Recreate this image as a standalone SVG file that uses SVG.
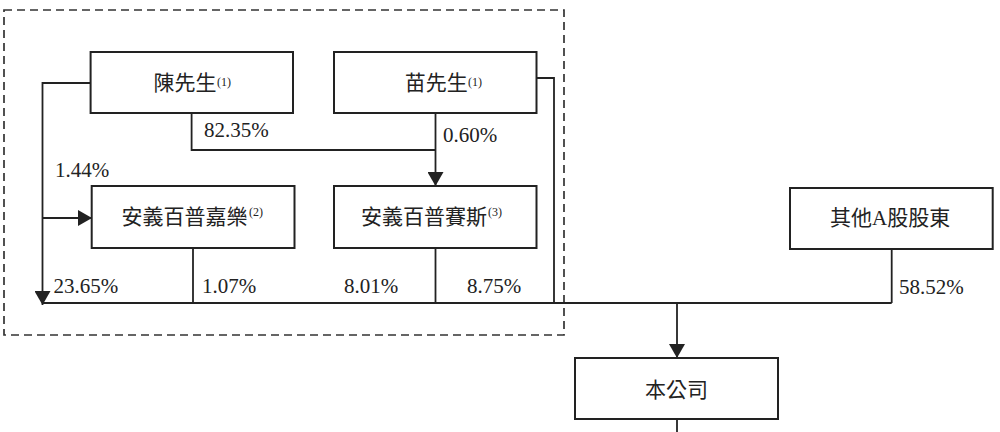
<svg xmlns="http://www.w3.org/2000/svg" width="1000" height="432" viewBox="0 0 1000 432">
<style>
  .box { fill: #ffffff; stroke: #222222; stroke-width: 2; }
  .line { fill: none; stroke: #222222; stroke-width: 1.8; }
  .dash { fill: none; stroke: #333333; stroke-width: 1.7; stroke-dasharray: 8 5; }
  .t { font-family: "Noto Sans CJK TC", sans-serif; font-size: 21px; fill: #222222; }
  .n { font-family: "Liberation Serif", "Times New Roman", serif; font-size: 21px; fill: #222222; }
  .sup { font-family: "Liberation Serif", "Times New Roman", serif; font-size: 12px; fill: #222222; }
</style>
<defs>
  <marker id="arrow" markerUnits="userSpaceOnUse" markerWidth="16" markerHeight="16" refX="14" refY="8" orient="auto" viewBox="0 0 16 16">
    <path d="M0,0 L14,8 L0,16 z" fill="#222222"/>
  </marker>
</defs>
<rect width="1000" height="432" fill="#ffffff"/>
<rect id="group-boundary" class="dash" x="4" y="10" width="560" height="325"/>
<g id="connectors">
  <path class="line" d="M90.6,83 H42.5 V305" marker-end="url(#arrow)"/>
  <path class="line" d="M42.5,218 H92" marker-end="url(#arrow)"/>
  <path class="line" d="M191.6,113 V150 H435.5"/>
  <path class="line" d="M435.5,113 V186" marker-end="url(#arrow)"/>
  <path class="line" d="M536.5,78 H554 V303"/>
  <path class="line" d="M193,248 V303"/>
  <path class="line" d="M435.5,248 V303"/>
  <path class="line" d="M42.5,303 H891.7"/>
  <path class="line" d="M891.7,249 V303"/>
  <path class="line" d="M677,303 V358" marker-end="url(#arrow)"/>
  <path class="line" d="M677,419 V432"/>
  <text class="n" x="204" y="137">82.35%</text>
  <text class="n" x="443" y="141.5">0.60%</text>
  <text class="n" x="55" y="177">1.44%</text>
  <text class="n" x="53.5" y="293">23.65%</text>
  <text class="n" x="202" y="293">1.07%</text>
  <text class="n" x="344" y="293">8.01%</text>
  <text class="n" x="467" y="293">8.75%</text>
  <text class="n" x="899" y="294">58.52%</text>
</g>
<g id="node-chen">
  <rect class="box" x="90.6" y="52" width="202.4" height="61"/>
  <text class="t" x="153.5" y="90">陳先生</text>
  <text class="sup" x="217" y="86">(1)</text>
</g>
<g id="node-miao">
  <rect class="box" x="334" y="52" width="202.5" height="61"/>
  <text class="t" x="404.8" y="90">苗先生</text>
  <text class="sup" x="468" y="86">(1)</text>
</g>
<g id="node-jiale">
  <rect class="box" x="91.7" y="186" width="202.8" height="62"/>
  <text class="t" x="121.5" y="223.5">安義百普嘉樂</text>
  <text class="sup" x="249" y="216">(2)</text>
</g>
<g id="node-saisi">
  <rect class="box" x="334" y="186" width="202.5" height="62"/>
  <text class="t" x="361" y="223.5">安義百普賽斯</text>
  <text class="sup" x="488" y="216">(3)</text>
</g>
<g id="node-other">
  <rect class="box" x="790" y="188" width="202.7" height="61"/>
  <text class="t" x="830" y="225">其他<tspan class="n">A</tspan>股股東</text>
</g>
<g id="node-company">
  <rect class="box" x="575" y="358" width="203" height="61"/>
  <text class="t" x="645" y="396.5">本公司</text>
</g>
</svg>
